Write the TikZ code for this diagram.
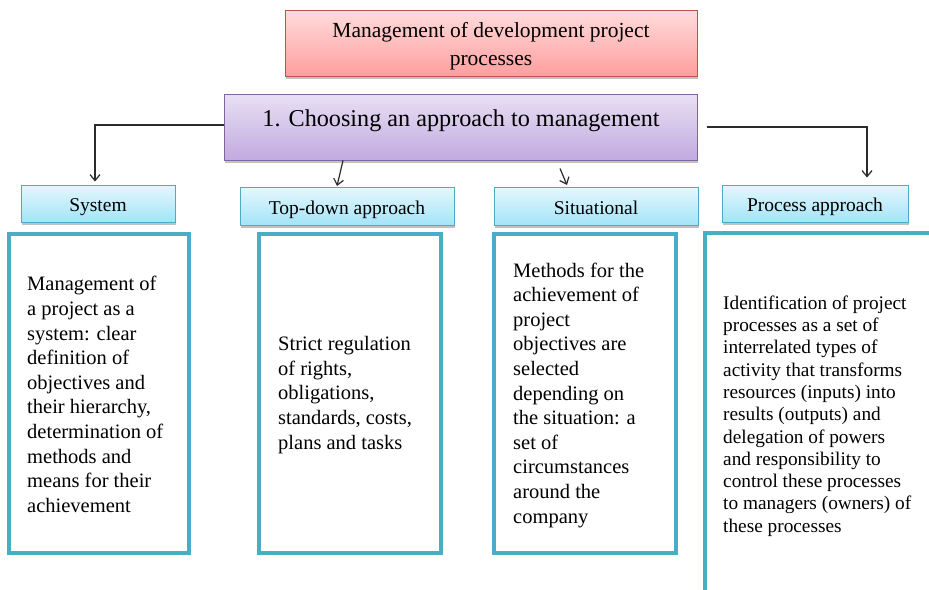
\documentclass[tikz,border=0pt]{standalone}
\usepackage{fontspec}
\setmainfont{Liberation Serif}
\usetikzlibrary{arrows.meta,shadows}
\definecolor{boxblue}{HTML}{4BACC6}
\definecolor{redline}{HTML}{C0504D}
\definecolor{redtop}{HTML}{FFDCDC}
\definecolor{redbot}{HTML}{FF9E9E}
\definecolor{purline}{HTML}{8064A2}
\definecolor{purtop}{HTML}{E8E0F4}
\definecolor{purbot}{HTML}{C2AADF}
\definecolor{cyantop}{HTML}{E4F7FD}
\definecolor{cyanbot}{HTML}{A3E4F8}
\definecolor{connc}{HTML}{2B2B2B}
\tikzset{
  x=1pt,y=-1pt,
  shade/.style={drop shadow={shadow xshift=1pt,shadow yshift=-2.5pt,opacity=.4,fill=black!60}},
  titlebox/.style={draw=redline,line width=1pt,top color=redtop,bottom color=redbot,shade,
    minimum width=412pt,minimum height=66pt,inner sep=0pt},
  titletext/.style={inner sep=0pt,align=center,font=\fontsize{21.5}{28}\selectfont},
  choosebox/.style={draw=purline,line width=1pt,top color=purtop,bottom color=purbot,shade,
    minimum width=473pt,minimum height=66pt,inner sep=0pt},
  headbox/.style={draw=boxblue,line width=1pt,top color=cyantop,bottom color=cyanbot,shade,
    inner sep=0pt,text height=19.5pt,text depth=4.5pt,font=\fontsize{19.5}{22}\selectfont},
  contentbox/.style={draw=boxblue,line width=4pt,fill=white,inner sep=0pt},
  bodytext/.style={inner sep=0pt,align=left,anchor=west,font=\fontsize{20.5}{24.6}\selectfont},
  smalltext/.style={inner sep=0pt,align=left,anchor=west,font=\fontsize{19.3}{22.3}\selectfont},
  conn/.style={draw=connc,line width=1.2pt,-{Straight Barb[length=6pt,width=10pt,line width=1.2pt]}},
}
\begin{document}
\begin{tikzpicture}
\useasboundingbox[fill=white] (0,0) rectangle (929,589);
\clip (0,0) rectangle (929,589);

% title boxes
\node[titlebox] (title) at (491,43) {};
\node[titletext] (titlet) at (491,46.5) {Management of development project\\processes};
\node[choosebox] (cp) at (460.5,127) {};
\node[inner sep=0pt,font=\fontsize{24.2}{28}\selectfont] (cpt) at (461,121) {1. Choosing an approach to management};

% header boxes
\node[headbox,minimum width=154pt,minimum height=37pt] (sys) at (98,203.5) {System};
\node[headbox,minimum width=214pt,minimum height=38pt] (td) at (347,206.5) {Top-down approach};
\node[headbox,minimum width=204pt,minimum height=38pt] (sit) at (596,206.5) {Situational};
\node[headbox,minimum width=186pt,minimum height=37pt] (proc) at (815,203.5) {Process approach};

% content boxes
\node[contentbox,minimum width=180pt,minimum height=319pt] (b1) at (99,393.5) {};
\node[contentbox,minimum width=182pt,minimum height=319pt] (b2) at (350,393.5) {};
\node[contentbox,minimum width=182pt,minimum height=319pt] (b3) at (585,393.5) {};
\node[contentbox,minimum width=260pt,minimum height=380pt] (b4) at (835,423) {};

\node[bodytext] (t1) at (27,394.5) {Management of\\a project as a\\system: clear\\definition of\\objectives and\\their hierarchy,\\determination of\\methods and\\means for their\\achievement};
\node[bodytext] (t2) at (278,395) {Strict regulation\\of rights,\\obligations,\\standards, costs,\\plans and tasks};
\node[bodytext] (t3) at (513,395) {Methods for the\\achievement of\\project\\objectives are\\selected\\depending on\\the situation: a\\set of\\circumstances\\around the\\company};
\node[smalltext] (t4) at (723,416) {Identification of project\\processes as a set of\\interrelated types of\\activity that transforms\\resources (inputs) into\\results (outputs) and\\delegation of powers\\and responsibility to\\control these processes\\to managers (owners) of\\these processes};

% connectors
\coordinate (c1) at (95,125);
\coordinate (c2) at (867,127);
\draw[conn] (cp.west |- c1) -- (c1) -- ([yshift=3pt]c1 |- sys.north);
\draw[conn] ([xshift=9pt]cp.east |- c2) -- (c2) -- ([yshift=7pt]c2 |- proc.north);
\draw[conn] ([xshift=-117.5pt]cp.south) -- ([xshift=-10pt,yshift=1pt]td.north);
\draw[conn] ([xshift=99.5pt,yshift=-8pt]cp.south) -- ([xshift=-29pt,yshift=2pt]sit.north);
\end{tikzpicture}
\end{document}
